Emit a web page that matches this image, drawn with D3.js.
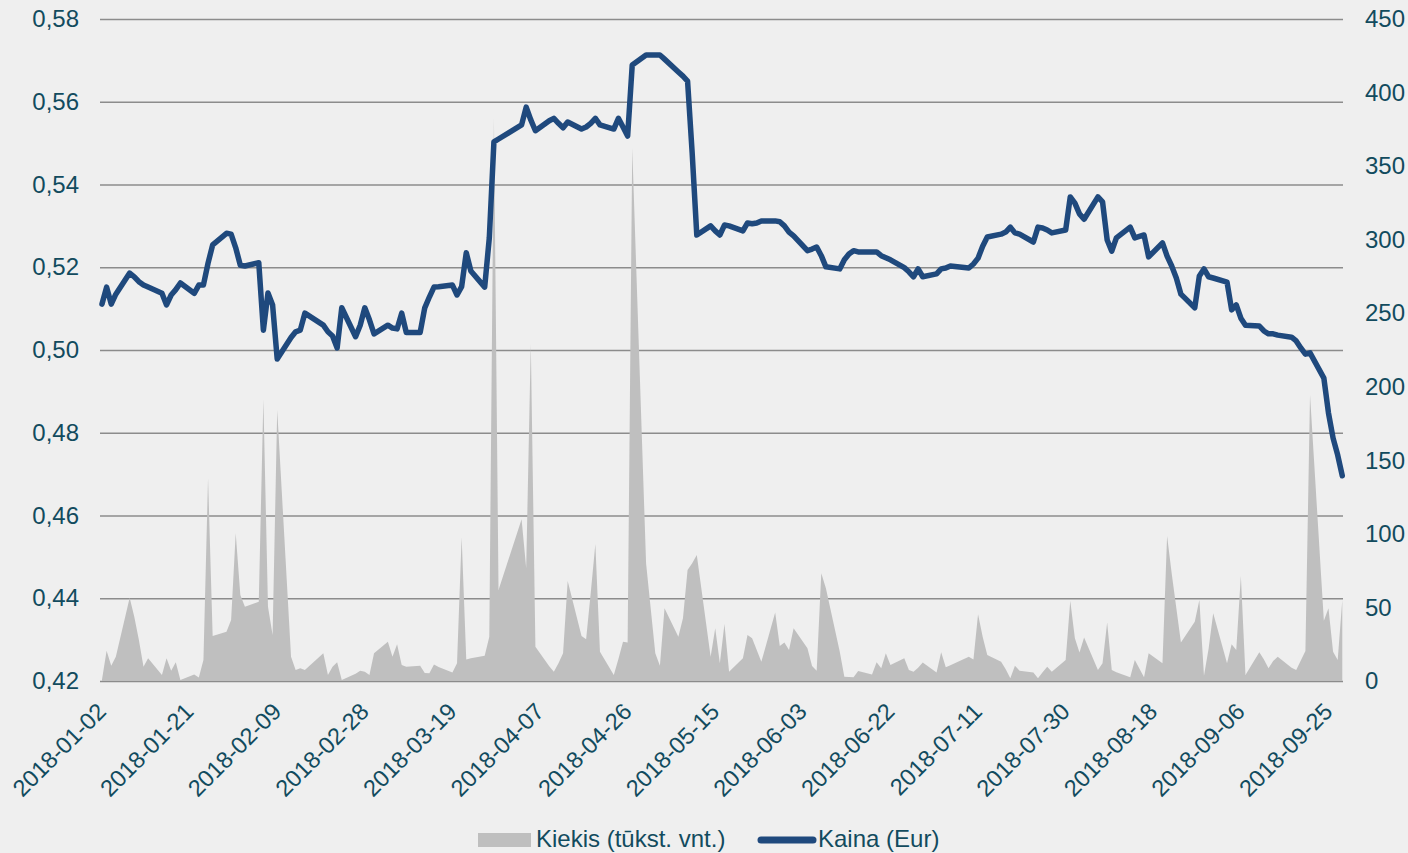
<!DOCTYPE html>
<html><head><meta charset="utf-8">
<script src="https://cdn.jsdelivr.net/npm/d3@7"></script>
<style>html,body{margin:0;padding:0;background:#efefef;} svg{display:block;}</style>
</head><body><svg id="c" width="1408" height="853"></svg>
<script>
const dates = [
"2018-01-02","2018-01-03","2018-01-04","2018-01-05","2018-01-08","2018-01-09","2018-01-10","2018-01-11","2018-01-12",
"2018-01-15","2018-01-16","2018-01-17","2018-01-18","2018-01-19","2018-01-22","2018-01-23","2018-01-24","2018-01-25","2018-01-26",
"2018-01-29","2018-01-30","2018-01-31","2018-02-01","2018-02-02","2018-02-05","2018-02-06","2018-02-07","2018-02-08","2018-02-09",
"2018-02-12","2018-02-13","2018-02-14","2018-02-15","2018-02-19","2018-02-20","2018-02-21","2018-02-22","2018-02-23",
"2018-02-26","2018-02-27","2018-02-28","2018-03-01","2018-03-02","2018-03-05","2018-03-06","2018-03-07","2018-03-08","2018-03-09",
"2018-03-12","2018-03-13","2018-03-14","2018-03-15","2018-03-16","2018-03-19","2018-03-20","2018-03-21","2018-03-22","2018-03-23",
"2018-03-26","2018-03-27","2018-03-28","2018-03-29","2018-04-03","2018-04-04","2018-04-05","2018-04-06",
"2018-04-09","2018-04-10","2018-04-11","2018-04-12","2018-04-13","2018-04-16","2018-04-17","2018-04-18","2018-04-19","2018-04-20",
"2018-04-23","2018-04-24","2018-04-25","2018-04-26","2018-04-27","2018-04-30","2018-05-02","2018-05-03","2018-05-04",
"2018-05-07","2018-05-08","2018-05-09","2018-05-10","2018-05-11","2018-05-14","2018-05-15","2018-05-16","2018-05-17","2018-05-18",
"2018-05-21","2018-05-22","2018-05-23","2018-05-24","2018-05-25","2018-05-28","2018-05-29","2018-05-30","2018-05-31","2018-06-01",
"2018-06-04","2018-06-05","2018-06-06","2018-06-07","2018-06-08","2018-06-11","2018-06-12","2018-06-13","2018-06-14","2018-06-15",
"2018-06-18","2018-06-19","2018-06-20","2018-06-21","2018-06-22","2018-06-25","2018-06-26","2018-06-27","2018-06-28","2018-06-29",
"2018-07-02","2018-07-03","2018-07-04","2018-07-05","2018-07-09","2018-07-10","2018-07-11","2018-07-12","2018-07-13",
"2018-07-16","2018-07-17","2018-07-18","2018-07-19","2018-07-20","2018-07-23","2018-07-24","2018-07-25","2018-07-26","2018-07-27",
"2018-07-30","2018-07-31","2018-08-01","2018-08-02","2018-08-03","2018-08-06","2018-08-07","2018-08-08","2018-08-09","2018-08-10",
"2018-08-13","2018-08-14","2018-08-16","2018-08-17","2018-08-20","2018-08-21","2018-08-22","2018-08-23","2018-08-24",
"2018-08-27","2018-08-28","2018-08-29","2018-08-30","2018-08-31","2018-09-03","2018-09-04","2018-09-05","2018-09-06","2018-09-07",
"2018-09-10","2018-09-11","2018-09-12","2018-09-13","2018-09-14","2018-09-17","2018-09-18","2018-09-19","2018-09-20","2018-09-21",
"2018-09-24","2018-09-25","2018-09-26","2018-09-27","2018-09-28"];

const price = [
0.5111,0.5152,0.5111,0.5135,0.5186,0.5177,0.5165,0.5157,0.5152,
0.5137,0.5109,0.5133,0.5146,0.5162,0.5137,0.5157,0.5157,0.5210,0.5254,
0.5282,0.5280,0.5247,0.5205,0.5203,0.5211,0.5048,0.5138,0.5109,0.4978,
0.5030,0.5044,0.5048,0.5089,0.5060,0.5044,0.5034,0.5005,0.5102,
0.5032,0.5060,0.5102,0.5073,0.5039,0.5060,0.5053,0.5051,0.5089,0.5042,
0.5042,0.5102,0.5128,0.5152,0.5153,0.5157,0.5133,0.5153,0.5235,0.5191,
0.5152,0.5271,0.5503,0.5510,0.5544,0.5587,0.5556,0.5530,
0.5554,0.5560,0.5548,0.5537,0.5551,0.5534,0.5539,0.5548,0.5560,0.5544,
0.5534,0.5560,0.5539,0.5517,0.5689,0.5713,0.5713,0.5713,0.5703,
0.5672,0.5662,0.5650,0.5476,0.5278,0.5300,0.5288,0.5278,0.5302,0.5300,
0.5288,0.5307,0.5305,0.5307,0.5312,0.5312,0.5310,0.5300,0.5285,0.5276,
0.5240,0.5244,0.5249,0.5228,0.5201,0.5196,0.5218,0.5232,0.5240,0.5237,
0.5237,0.5237,0.5228,0.5223,0.5218,0.5199,0.5189,0.5177,0.5196,0.5177,
0.5184,0.5196,0.5198,0.5203,0.5198,0.5208,0.5222,0.5251,0.5273,
0.5280,0.5285,0.5297,0.5283,0.5280,0.5261,0.5297,0.5295,0.5290,0.5283,
0.5290,0.5370,0.5355,0.5329,0.5316,0.5370,0.5358,0.5266,0.5239,0.5271,
0.5297,0.5271,0.5278,0.5225,0.5259,0.5227,0.5203,0.5174,0.5135,
0.5102,0.5179,0.5196,0.5177,0.5174,0.5164,0.5097,0.5109,0.5077,0.5060,
0.5058,0.5046,0.5039,0.5039,0.5036,0.5031,0.5022,0.5005,0.4990,0.4993,
0.4932,0.4848,0.4787,0.4746,0.4696];

const volume = [
1,20.6,10.4,16.5,56.6,43.7,27.9,9.7,15.4,
4.1,15.4,7,12.7,0.7,4.5,2.3,14.3,137.8,30.6,
33.5,41.5,100.4,58.5,50.5,53.9,191.5,50.5,31.3,184.2,
16.5,7.5,8.6,7.5,18.8,4.1,9.7,12.7,0.7,
5,7,6.3,4.1,18.8,26.7,16.5,24.9,10.9,9.7,
10.4,5.5,5.2,11.3,9.5,5.7,12,97.7,14.7,15.5,
17.2,30.1,382.7,61.9,109.9,76.6,229,23.3,
10,6.3,12,18.8,68,30.6,28.3,60,93.1,19.9,
4.1,15,26.7,26.1,362.3,80,18.8,10.4,49.4,
30.1,42.6,75.5,80,85.7,16.5,35.8,12,38.7,6.3,
15.4,31.3,29,21,13.1,46.5,23.8,26.1,21.1,35.8,
22.2,10.2,7,73.2,63,20,2.9,2.7,2.5,6.8,
4.5,12.7,8.6,18.8,10.9,15.4,7.5,6.3,9,12.5,
5.7,19.5,9.3,10.7,16.5,14.7,45.3,30,17.7,
13.1,8,1.8,10.4,7,5.7,1.8,6,9.7,6.3,
14.3,54.6,29,19.3,29.5,7.5,12,39.7,7.5,6,
2.5,14.3,2.5,18.8,12,98.6,73,49.6,26.1,
40.3,55.1,3.6,22,46,12,24.9,21.1,71.4,4.1,
19.5,14.7,8.6,13.6,16.5,9,7.5,14,20.4,194.4,
41,49.4,19.9,14.3,55.1];

const xTickLabels = ["2018-01-02","2018-01-21","2018-02-09","2018-02-28","2018-03-19","2018-04-07","2018-04-26",
"2018-05-15","2018-06-03","2018-06-22","2018-07-11","2018-07-30","2018-08-18","2018-09-06","2018-09-25"];
const leftTicks = [0.42,0.44,0.46,0.48,0.50,0.52,0.54,0.56,0.58];
const rightTicks = [0,50,100,150,200,250,300,350,400,450];
const seriesNames = ["Kiekis (tūkst. vnt.)","Kaina (Eur)"];

const FONT = "'Liberation Sans', Arial, sans-serif";
const TXT = "#124b5e";
const parse = d3.utcParse("%Y-%m-%d");
const data = dates.map((d,i)=>({date:parse(d), p:price[i], v:volume[i]}));

const svg = d3.select("#c");
svg.append("rect").attr("width",1408).attr("height",853).attr("fill","#efefef");

const x = d3.scaleUtc().domain([parse(dates[0]), parse(dates[dates.length-1])]).range([102,1342.3]);
const yL = d3.scaleLinear().domain([0.42,0.58]).range([681,19]);
const yR = d3.scaleLinear().domain([0,450]).range([681,19]);

const gL = svg.append("g").attr("transform","translate(100,0)")
  .call(d3.axisLeft(yL).tickValues(leftTicks).tickSize(-1243).tickPadding(21)
    .tickFormat(d=>d3.format(".2f")(d).replace(".",",")));
gL.select(".domain").remove();
gL.selectAll(".tick line").attr("stroke","#8c8c8c").attr("stroke-width",1.5);
gL.selectAll(".tick text").attr("fill",TXT).attr("font-family",FONT).attr("font-size",24);

const gR = svg.append("g").attr("transform","translate(1365,0)")
  .call(d3.axisRight(yR).tickValues(rightTicks).tickSize(0).tickPadding(0));
gR.select(".domain").remove();
gR.selectAll(".tick text").attr("fill",TXT).attr("font-family",FONT).attr("font-size",24);

svg.append("path").datum(data)
  .attr("fill","#bfbfbf")
  .attr("d", d3.area().x(d=>x(d.date)).y0(yR(0)).y1(d=>yR(d.v)));

svg.append("path").datum(data)
  .attr("fill","none").attr("stroke","#1f497d").attr("stroke-width",5.5)
  .attr("stroke-linejoin","round").attr("stroke-linecap","round")
  .attr("d", d3.line().x(d=>x(d.date)).y(d=>yL(d.p)));

const gX = svg.append("g").attr("transform","translate(0,681)")
  .call(d3.axisBottom(x).tickValues(xTickLabels.map(parse)).tickSize(0)
    .tickFormat(d3.utcFormat("%Y-%m-%d")));
gX.select(".domain").remove();
gX.selectAll(".tick text").attr("fill",TXT).attr("font-family",FONT).attr("font-size",23.5)
  .attr("y",0).attr("dy",null).attr("text-anchor","end")
  .attr("transform","translate(5,32) rotate(-45)");

const lg = svg.append("g").attr("font-family",FONT).attr("font-size",24).attr("fill",TXT);
lg.append("rect").attr("x",478).attr("y",833).attr("width",53).attr("height",14).attr("fill","#bfbfbf");
lg.append("text").attr("x",536).attr("y",847).text(seriesNames[0]);
lg.append("line").attr("x1",761).attr("x2",813).attr("y1",840).attr("y2",840)
  .attr("stroke","#1f497d").attr("stroke-width",7).attr("stroke-linecap","round");
lg.append("text").attr("x",818).attr("y",847).text(seriesNames[1]);
</script>
</body></html>
